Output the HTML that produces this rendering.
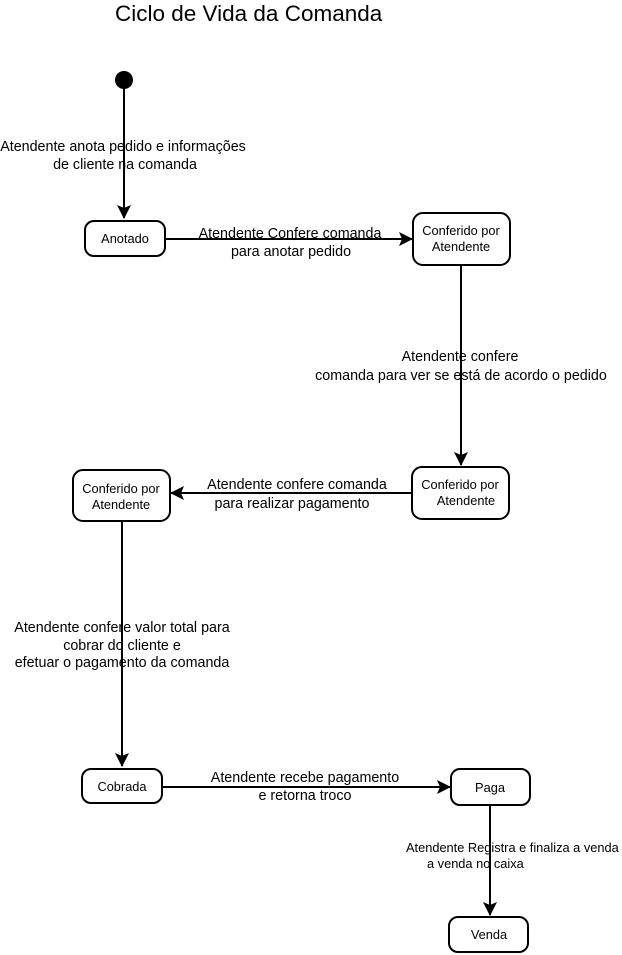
<!DOCTYPE html>
<html><head><meta charset="utf-8"><style>
html,body{margin:0;padding:0;background:#fff;}
svg{display:block;}
text{font-family:"Liberation Sans",sans-serif;fill:#000;}
.l{font-size:14.3px;}
.b{font-size:12.8px;}
rect{fill:#fff;stroke:#000;stroke-width:2;}
line{stroke:#000;stroke-width:2;}
</style></head><body>
<svg width="622" height="955" viewBox="0 0 622 955">
<defs><marker id="a" markerWidth="14" markerHeight="14" refX="13" refY="7" orient="auto" markerUnits="userSpaceOnUse"><path d="M0,0 L14,7 L0,14 L3,7 z" fill="#000"/></marker></defs>
<text x="115" y="21" font-size="22.5">Ciclo de Vida da Comanda</text>
<circle cx="124" cy="80" r="9" fill="#000"/>
<line x1="124" y1="89" x2="124" y2="218" marker-end="url(#a)"/>
<text class="l" x="123" y="151" text-anchor="middle">Atendente  anota pedido e informações</text>
<text class="l" x="125" y="169" text-anchor="middle">de cliente na comanda</text>
<rect x="85" y="221" width="80" height="35" rx="9"/>
<text class="b" x="125" y="243" text-anchor="middle">Anotado</text>
<line x1="165" y1="239" x2="412" y2="239" marker-end="url(#a)"/>
<text class="l" x="290" y="238" text-anchor="middle">Atendente  Confere comanda</text>
<text class="l" x="291" y="256" text-anchor="middle">para anotar pedido</text>
<rect x="413" y="213" width="97" height="52" rx="10"/>
<text class="b" x="461" y="235" text-anchor="middle">Conferido por</text>
<text class="b" x="461" y="251" text-anchor="middle">Atendente</text>
<line x1="461" y1="265" x2="461" y2="465" marker-end="url(#a)"/>
<text class="l" x="460" y="361" text-anchor="middle">Atendente confere</text>
<text class="l" x="461" y="380" text-anchor="middle">comanda para ver se está de acordo o pedido</text>
<rect x="412" y="467" width="97" height="52" rx="10"/>
<text class="b" x="460" y="489" text-anchor="middle">Conferido por</text>
<text class="b" x="466" y="505" text-anchor="middle">Atendente</text>
<line x1="412" y1="493" x2="171" y2="493" marker-end="url(#a)"/>
<text class="l" x="297" y="489" text-anchor="middle">Atendente confere comanda</text>
<text class="l" x="292" y="508" text-anchor="middle">para realizar pagamento</text>
<rect x="73" y="470" width="97" height="51" rx="10"/>
<text class="b" x="121" y="493" text-anchor="middle">Conferido por</text>
<text class="b" x="121" y="509" text-anchor="middle">Atendente</text>
<line x1="122" y1="521" x2="122" y2="766" marker-end="url(#a)"/>
<text class="l" x="122" y="632" text-anchor="middle">Atendente confere valor total para</text>
<text class="l" x="122" y="650" text-anchor="middle">cobrar do cliente e</text>
<text class="l" x="122" y="667" text-anchor="middle">efetuar o pagamento da comanda</text>
<rect x="82" y="769" width="80" height="34" rx="9"/>
<text class="b" x="122" y="791" text-anchor="middle">Cobrada</text>
<line x1="162" y1="787" x2="450" y2="787" marker-end="url(#a)"/>
<text class="l" x="305" y="782" text-anchor="middle">Atendente recebe pagamento</text>
<text class="l" x="305" y="800" text-anchor="middle">e retorna troco</text>
<rect x="451" y="769" width="79" height="36" rx="9"/>
<text class="b" x="490" y="792" text-anchor="middle">Paga</text>
<line x1="490" y1="805" x2="490" y2="915" marker-end="url(#a)"/>
<text class="b" x="406" y="852">Atendente Registra e finaliza a venda</text>
<text class="b" x="427" y="868">a venda no  caixa</text>
<rect x="449" y="917" width="79" height="35" rx="9"/>
<text class="b" x="489" y="939" text-anchor="middle">Venda</text>
</svg>
</body></html>
